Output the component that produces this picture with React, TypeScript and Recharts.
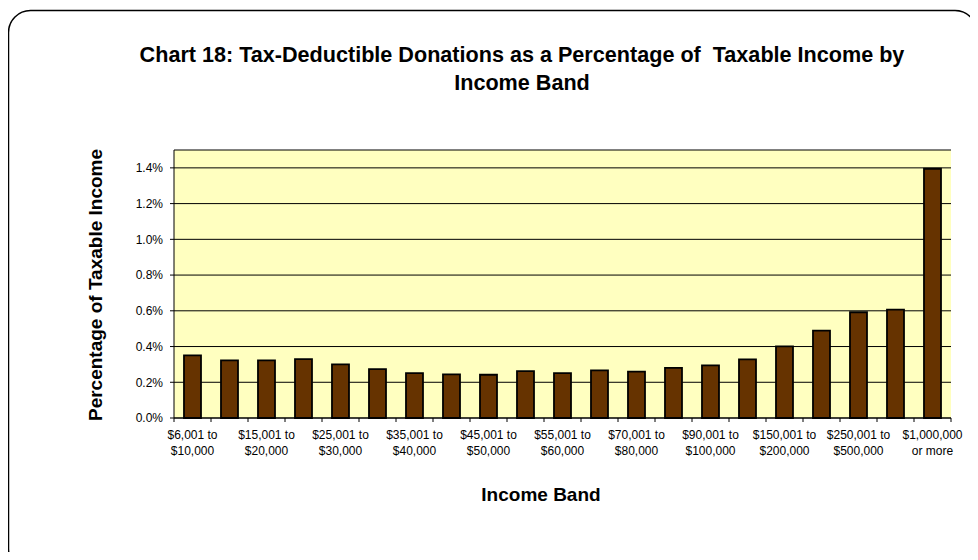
import React from 'react';
import {
    BarChart,
    Bar,
    XAxis,
    YAxis,
    CartesianGrid,
} from 'recharts';

/* ── Data ────────────────────────────────────────────────────────────────── */
const CATEGORIES = [
    '$6,001 to $10,000', '$10,001 to $15,000', '$15,001 to $20,000', '$20,001 to $25,000',
    '$25,001 to $30,000', '$30,001 to $35,000', '$35,001 to $40,000', '$40,001 to $45,000',
    '$45,001 to $50,000', '$50,001 to $55,000', '$55,001 to $60,000', '$60,001 to $70,000',
    '$70,001 to $80,000', '$80,001 to $90,000', '$90,001 to $100,000', '$100,001 to $150,000',
    '$150,001 to $200,000', '$200,001 to $250,000', '$250,001 to $500,000',
    '$500,001 to $1,000,000', '$1,000,000 or more',
];

// % of taxable income donated
const PCT_OF_INCOME = [
    0.350, 0.322, 0.322, 0.330, 0.300, 0.274, 0.251, 0.244, 0.242, 0.262, 0.251,
    0.266, 0.260, 0.281, 0.294, 0.328, 0.401, 0.489, 0.592, 0.607, 1.395,
];

const Y_TICKS = [0, 0.2, 0.4, 0.6, 0.8, 1.0, 1.2, 1.4];

const TITLE_LINES = [
    'Chart 18: Tax-Deductible Donations as a Percentage of  Taxable Income by',
    'Income Band',
];

const data = CATEGORIES.map((name, i) => ({ name, pct: PCT_OF_INCOME[i] }));

const FONT = '"Liberation Sans", Arial, Helvetica, sans-serif';
const BAR_COLOR = '#663300';
const PLOT_BG = '#FFFFC0';

/* ── Helpers ─────────────────────────────────────────────────────────────── */
const splitLabel = (s: string): [string, string] => {
    const k = s.indexOf(' to ');
    if (k >= 0) return [s.slice(0, k + 3), s.slice(k + 4)];
    const m = s.indexOf(' or ');
    return m >= 0 ? [s.slice(0, m), s.slice(m + 1)] : [s, ''];
};

/* ── X tick: boundary tick marks, label on every other band ──────────────── */
const XTick = ({ x, y, payload, index }: any) => {
    const half = payload?.offset || 18.5;
    const [l1, l2] = splitLabel(String(payload.value));
    const last = index === CATEGORIES.length - 1;
    return (
        <g>
            <line x1={x - half} x2={x - half} y1={y} y2={y + 4} stroke="#000" />
            {last && <line x1={x + half} x2={x + half} y1={y} y2={y + 4} stroke="#000" />}
            {index % 2 === 0 && (
                <text x={x} y={y + 21} textAnchor="middle" fill="#000" fontSize={12} fontFamily={FONT}>
                    <tspan x={x}>{l1}</tspan>
                    <tspan x={x} dy={16}>{l2}</tspan>
                </text>
            )}
        </g>
    );
};

/* ── Main ────────────────────────────────────────────────────────────────── */
export default function App() {
    return (
        <div style={{ position: 'relative', width: 978, height: 560, margin: -8, background: '#fff', overflow: 'hidden' }}>
            <BarChart
                width={978}
                height={560}
                data={data}
                margin={{ top: 150, right: 27, left: 114, bottom: 102 }}
                barCategoryGap="27%"
            >
                <CartesianGrid
                    vertical={false}
                    stroke="#000"
                    fill={PLOT_BG}
                    fillOpacity={1}
                />
                <XAxis
                    dataKey="name"
                    interval={0}
                    height={40}
                    tick={<XTick />}
                    tickLine={false}
                    tickSize={0}
                    tickMargin={0}
                    axisLine={{ stroke: '#000' }}
                />
                <XAxis
                    xAxisId="top"
                    orientation="top"
                    dataKey="name"
                    height={0}
                    tick={false}
                    tickLine={false}
                    axisLine={{ stroke: '#8c8c8c', strokeWidth: 2 }}
                />
                <YAxis
                    domain={[0, 1.5]}
                    ticks={Y_TICKS}
                    width={60}
                    tickSize={4}
                    tickMargin={7}
                    tickLine={{ stroke: '#000' }}
                    axisLine={{ stroke: '#000' }}
                    tick={{ fill: '#000', fontSize: 12, fontFamily: FONT }}
                    tickFormatter={(v: number) => `${v.toFixed(1)}%`}
                />
                <YAxis
                    yAxisId="right"
                    orientation="right"
                    domain={[0, 1.5]}
                    width={0}
                    tick={false}
                    tickLine={false}
                    axisLine={{ stroke: '#8c8c8c', strokeWidth: 2 }}
                />
                <Bar
                    dataKey="pct"
                    fill={BAR_COLOR}
                    stroke="#000"
                    strokeWidth={1.8}
                    isAnimationActive={false}
                />
            </BarChart>

            {/* Frame and titles */}
            <svg width={978} height={560} style={{ position: 'absolute', left: 0, top: 0, pointerEvents: 'none' }}>
                <rect x={8.5} y={10.5} width={968.5} height={560} rx={22} ry={22} fill="none" stroke="#000" strokeWidth={1.5} />
                <text textAnchor="middle" fontFamily={FONT} fontSize={21.6} fontWeight="bold" fill="#000" style={{ whiteSpace: 'pre' }}>
                    <tspan x={522} y={62}>{TITLE_LINES[0]}</tspan>
                    <tspan x={522} y={90}>{TITLE_LINES[1]}</tspan>
                </text>
                <text x={541} y={501} textAnchor="middle" fontFamily={FONT} fontSize={19} fontWeight="bold" fill="#000">
                    Income Band
                </text>
                <text
                    x={0} y={0}
                    transform="translate(101.5 285) rotate(-90)"
                    textAnchor="middle"
                    fontFamily={FONT} fontSize={19} fontWeight="bold" fill="#000"
                >
                    Percentage of Taxable Income
                </text>
            </svg>
        </div>
    );
}
